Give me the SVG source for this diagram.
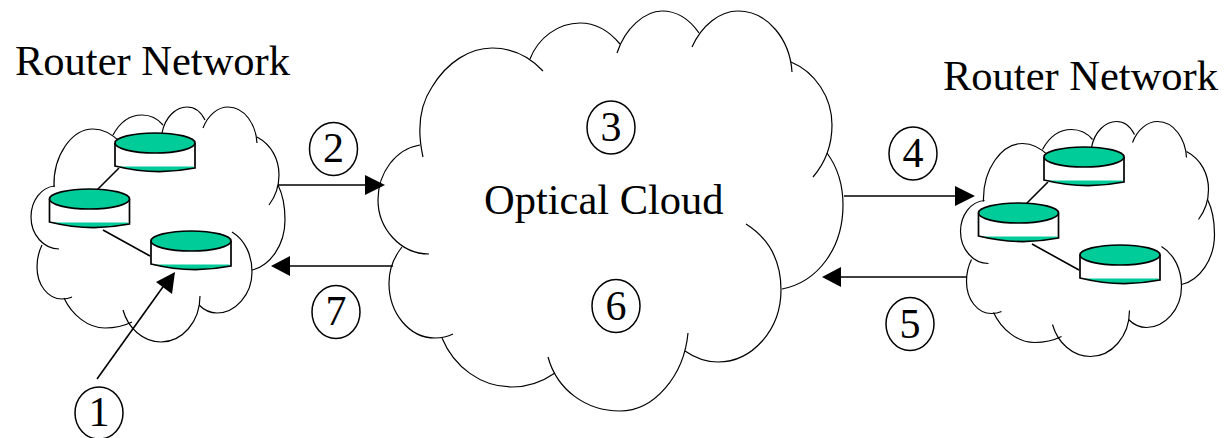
<svg xmlns="http://www.w3.org/2000/svg" width="1224" height="438" viewBox="0 0 1224 438">
<style>
.cloud{fill:none;stroke:#000;stroke-width:1.2}
.conn{fill:none;stroke:#000;stroke-width:1.6}
.link{fill:none;stroke:#000;stroke-width:1.6}
.head{fill:#000;stroke:none}
.badge{fill:#fff;stroke:#000;stroke-width:1.5}
text{font-family:"Liberation Serif","Times New Roman",serif;fill:#000}
.lbl{font-size:42.5px}
.num{font-size:42px;text-anchor:middle}
.top{fill:#00cc99;stroke:#000;stroke-width:1.7}
.body{fill:#fff;stroke:none}
.cres{fill:#00cc99;stroke:none}
.edge{fill:none;stroke:#000;stroke-width:1.7}
</style>
<defs>
<g id="small-cloud" class="cloud">
<path d="M54 187C53 155 72 129 93 129C102 129 110 132 120 142"/>
<path d="M113 135C120 122 130 115 142 115C151 115 158 119 163 125"/>
<path d="M162 133C165 117 176 107 187 107C195 107 201 112 205 120"/>
<path d="M203 128C208 115 218 107 228 107C245 107 256 125 257 143"/>
<path d="M257 137C272 145 279 160 279 175C279 187 275 197 269 205"/>
<path d="M278 185C283 195 285 207 285 220C285 245 270 266 252 270"/>
<path d="M232 232C245 240 252 255 252 272C252 295 235 313 217 313C210 313 204 310 199 305"/>
<path d="M200 296C200 322 182 342 161 342C143 342 128 328 123 310"/>
<path d="M132 322C124 326 115 328 105 328C88 328 72 315 64 298"/>
<path d="M72 297C68 299 65 299 62 299C48 299 37 285 37 267C37 258 39 251 42 245"/>
<path d="M59 249C44 249 31 235 31 217C31 201 41 187 55 186"/>
</g>
<g id="router">
<path class="body" d="M0 0H80V25H0Z"/>
<path class="cres" d="M2 23.500H78L80 25Q40 33 0 23Z"/>
<path class="edge" d="M0 0V23Q40 33 80 25V0"/>
<ellipse class="top" cx="40" cy="0" rx="40" ry="10"/>
</g>
</defs>
<g id="cloud-optical" class="cloud">
<path d="M423 157C417 130 420 105 432 87C447 62 470 48 492 48C513 48 530 57 543 71"/>
<path d="M530 59C538 38 558 23 580 23C596 23 610 32 620 44"/>
<path d="M617 53C625 28 645 11 662 11C678 11 690 20 699 33"/>
<path d="M692 47C702 25 720 11 738 11C768 11 790 40 792 72"/>
<path d="M791 62C815 72 832 97 832 125C832 145 825 163 813 177"/>
<path d="M827 153C838 168 843 185 843 205C843 248 818 282 782 289"/>
<path d="M746 224C768 238 781 260 781 290C781 330 752 362 718 362C706 362 695 358 685 351"/>
<path d="M688 333C684 376 654 411 620 411C586 411 557 390 548 357"/>
<path d="M555 373C542 382 527 387 512 387C481 387 454 367 442 338"/>
<path d="M453 334C447 337 441 338 435 338C409 338 389 313 389 283C389 270 394 257 402 247"/>
<path d="M429 254C400 254 378 228 378 200C378 172 396 149 420 145"/>
</g>
<g id="cloud-left"><use href="#small-cloud"/></g>
<g id="cloud-right"><use href="#small-cloud" transform="translate(929.5 14.5)"/></g>
<g id="connectors">
<path class="link" d="M119 168L95 192M103 230L150 256M1048 182L1024 206M1032 244L1079 270"/>
<path class="conn" d="M97 379L165 284"/>
<path class="head" d="M175 272L156 282L172 294Z"/>
<path class="conn" d="M278 185H370"/>
<path class="head" d="M385 185L365 175V195Z"/>
<path class="conn" d="M393 266H288"/>
<path class="head" d="M271 266L290 256V276Z"/>
<path class="conn" d="M844 196H957"/>
<path class="head" d="M975 196L955 186V206Z"/>
<path class="conn" d="M967 277H839"/>
<path class="head" d="M822 277L841 267V287Z"/>
</g>
<g id="router-l1"><use href="#router" x="115" y="143"/></g>
<g id="router-l2"><use href="#router" x="49.500" y="199"/></g>
<g id="router-l3"><use href="#router" x="151" y="241"/></g>
<g id="router-r1"><use href="#router" x="1044" y="157"/></g>
<g id="router-r2"><use href="#router" x="978.500" y="213"/></g>
<g id="router-r3"><use href="#router" x="1080" y="255"/></g>
<g id="label-left"><text class="lbl" x="15" y="75">Router Network</text></g>
<g id="label-right"><text class="lbl" x="943" y="90">Router Network</text></g>
<g id="label-optical"><text class="lbl" x="484" y="214">Optical Cloud</text></g>
<g id="step-1"><ellipse class="badge" cx="99" cy="413" rx="24" ry="26"/><text class="num" x="99" y="426">1</text></g>
<g id="step-2"><ellipse class="badge" cx="333.500" cy="149" rx="24" ry="26.500"/><text class="num" x="333.500" y="162">2</text></g>
<g id="step-3"><ellipse class="badge" cx="611" cy="127.500" rx="24" ry="26.500"/><text class="num" x="611" y="141">3</text></g>
<g id="step-4"><ellipse class="badge" cx="913" cy="153.500" rx="24" ry="26.500"/><text class="num" x="913" y="167">4</text></g>
<g id="step-5"><ellipse class="badge" cx="910" cy="324" rx="24" ry="26.500"/><text class="num" x="910" y="338">5</text></g>
<g id="step-6"><ellipse class="badge" cx="616" cy="306" rx="24" ry="26.500"/><text class="num" x="616" y="320">6</text></g>
<g id="step-7"><ellipse class="badge" cx="336" cy="312" rx="24" ry="26.500"/><text class="num" x="336" y="325">7</text></g>
</svg>
